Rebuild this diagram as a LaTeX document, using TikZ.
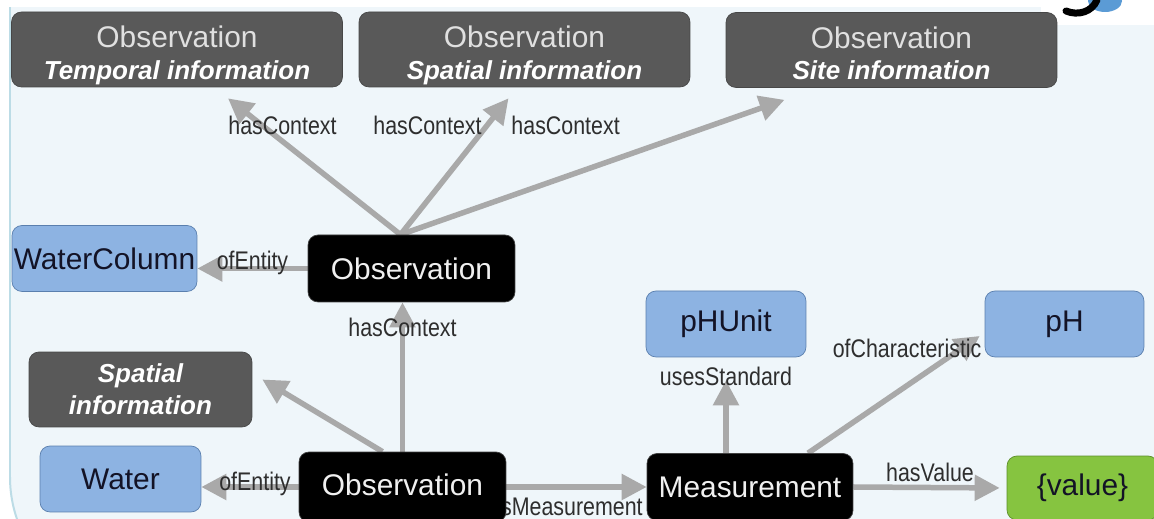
\documentclass[tikz,border=0pt]{standalone}
\usepackage{fontspec}
\setmainfont{Liberation Sans}
\newfontfamily\narrowfont[FakeStretch=0.84]{Liberation Sans}
\usetikzlibrary{arrows.meta,calc}
\definecolor{panelblue}{HTML}{EFF6FA}
\definecolor{paneledge}{HTML}{BCDCE6}
\definecolor{ctxgrey}{HTML}{595959}
\definecolor{ctxedge}{HTML}{474747}
\definecolor{entblue}{HTML}{8DB3E2}
\definecolor{entedge}{HTML}{5A7FAE}
\definecolor{entink}{HTML}{131326}
\definecolor{valgreen}{HTML}{86C440}
\definecolor{valedge}{HTML}{5E8F2A}
\definecolor{linkgrey}{HTML}{A9A9A9}
\definecolor{lblgrey}{HTML}{2E2E2E}
\definecolor{logoblue}{HTML}{5B9BD5}
\pgfdeclarelayer{panel}
\pgfdeclarelayer{links}
\pgfsetlayers{panel,links,main}
\newcommand{\ctxinfo}[1]{{\fontsize{14.8}{18}\selectfont\bfseries\itshape\color{white}#1}}
\tikzset{
BOX/.style ={rounded corners=0.2cm,line width=0.4pt,inner sep=0pt,align=center,font=\fontsize{17}{18}\selectfont},
CTX/.style ={BOX,fill=ctxgrey,draw=ctxedge,text=white!88!black,minimum width=#1,minimum height=1.5cm},
CTX/.default = 6.62cm,
CTXTOP/.style ={CTX,text height=1.19cm,text depth=0cm},
OBS/.style ={BOX,fill=black,draw=black!75,text=white!94!black,minimum width=4.14cm,minimum height=1.34cm},
ENT/.style ={BOX,fill=entblue,draw=entedge,text=entink,minimum width=#1,minimum height=1.32cm},
ENT/.default = 3.2cm,
VAL/.style ={BOX,fill=valgreen,draw=valedge,text=entink,minimum width=3.02cm,minimum height=1.28cm},
LINK/.style ={draw=linkgrey,line width=0.11cm,-{Triangle[length=0.5cm,width=0.5cm]}},
LBL/.style ={text=lblgrey,inner sep=0.05cm,font=\narrowfont\fontsize{14.5}{16}\selectfont},
}
\begin{document}
\begin{tikzpicture} %pH observation
[x=0.02cm, y=-0.02cm]
	\useasboundingbox (0,0) rectangle (1154,519);
\begin{pgfonlayer}{panel}
	\fill[white] (0,0) rectangle (1154,519);
	\path[fill=panelblue,draw=paneledge,line width=0.04cm,rounded corners=2.58cm] (1220,-200) -- (10,-200) -- (10,606) -- (1220,606);
	\fill[white] (-10,-10) rectangle (1170,7);
	\fill[white,rounded corners=0.1cm] (1041,-10) rectangle (1170,25);
	\fill[logoblue] (1105,1) ellipse [x radius=0.34cm, y radius=0.22cm];
	\draw[black,line width=0.14cm,line cap=round] (1066,11) .. controls (1078,16) and (1092,12) .. (1097,0);
\end{pgfonlayer}
	\node[CTXTOP] (tempObs) at (177,49.5) {Observation\\\ctxinfo{Temporal information}};
	\node[CTXTOP] (spaObs) at (524.5,49.5) {Observation\\\ctxinfo{Spatial information}};
	\node[CTXTOP] (siteObs) at (891.5,50) {Observation\\\ctxinfo{Site information}};
	\node[ENT=3.7cm] (wcol) at (104.5,258.5) {WaterColumn};
	\node[OBS] (obsMid) at (411.5,268.5) {Observation};
	\node[ENT] (phUnit) at (726,324) {pHUnit};
	\node[ENT=3.18cm] (ph) at (1064.5,324) {pH};
	\node[CTX=4.46cm] (spaInfo) at (140.5,389.5) {\ctxinfo{Spatial}\\\ctxinfo{information}};
	\node[ENT=3.22cm] (water) at (120.5,479) {Water};
	\node[OBS,minimum height=1.4cm,text depth=0.08cm] (obsBot) at (402.5,487) {Observation};
	\node[OBS,minimum width=4.12cm] (meas) at (750,487) {Measurement};
	\node[VAL] (val) at (1082.5,488) {\{value\}};
\begin{pgfonlayer}{links}
	\path[LINK] ($(obsMid.north)+(-11,0)$) -- node[LBL,pos=0.8,xshift=0.4cm] {hasContext} ($(tempObs.south)+(51,11)$);
	\path[LINK] ($(obsMid.north)+(-11,0)$) -- node[LBL,pos=0.8,left] {hasContext} ($(spaObs.south)+(-16,11)$);
	\path[LINK] ($(obsMid.north)+(-11,0)$) -- node[LBL,pos=0.43,yshift=1.02cm] {hasContext} ($(siteObs.south)+(-107,12)$);
	\path[LINK] (obsMid.west) -- node[LBL,midway,yshift=0.12cm] {ofEntity} (obsMid.west -| wcol.east);
	\path[LINK] (obsBot.north) -- node[LBL,pos=0.83] {hasContext} (obsBot.north |- obsMid.south);
	\path[LINK] ($(obsBot.north)+(-20,0)$) -- ($(spaInfo.east)+(10,-10)$);
	\path[LINK] (obsBot.west) -- node[LBL,midway,xshift=0.1cm,yshift=0.06cm] {ofEntity} (obsBot.west -| water.east);
	\path[LINK] (obsBot.east) -- node[LBL,midway,below,xshift=-0.33cm,yshift=-0.1cm] {hasMeasurement} (obsBot.east -| meas.west);
	\path[LINK,shorten >=0.46cm] (meas.north -| phUnit.south) -- node[LBL,pos=0.8] {usesStandard} (phUnit.south);
	\path[LINK] ($(meas.north)+(58,0)$) -- node[LBL,pos=1,anchor=east,xshift=0.14cm,yshift=-0.24cm] {ofCharacteristic} ($(ph.west)+(-5,12)$);
	\path[LINK,shorten >=0.14cm] (meas.east) -- node[LBL,midway,above] {hasValue} (val.west);
\end{pgfonlayer}
\end{tikzpicture}
\end{document}
